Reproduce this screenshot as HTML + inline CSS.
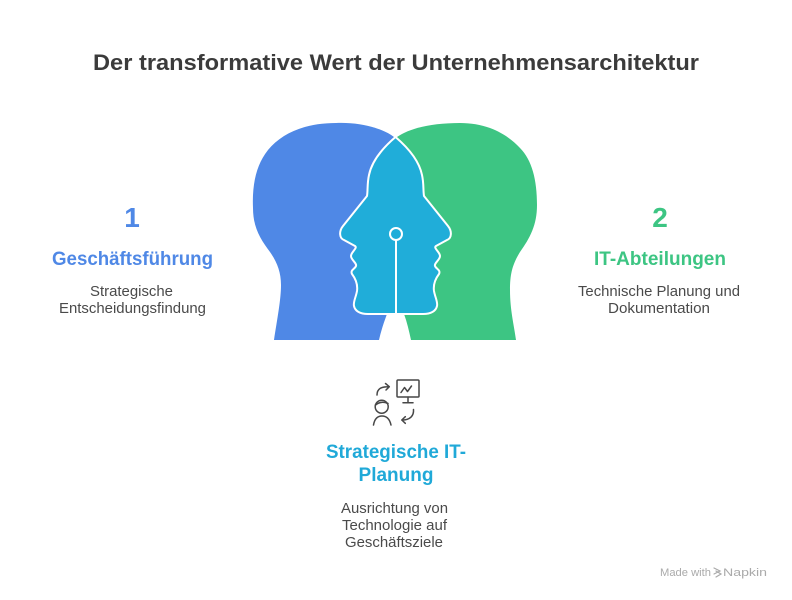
<!DOCTYPE html>
<html>
<head>
<meta charset="utf-8">
<style>
  html, body { margin:0; padding:0; background:#ffffff; }
  body { width:792px; height:600px; overflow:hidden; }
  svg { display:block; }
  text { font-family: "Liberation Sans", "DejaVu Sans", sans-serif; }
</style>
</head>
<body>
<svg width="792" height="600" viewBox="0 0 792 600" xmlns="http://www.w3.org/2000/svg">
  <rect width="792" height="600" fill="#ffffff"/>

  <!-- Title -->
  <text x="93" y="70" font-size="22" font-weight="bold" fill="#3b3b3b" textLength="606" lengthAdjust="spacingAndGlyphs">Der transformative Wert der Unternehmensarchitektur</text>

  <!-- Blue head -->
  <path d="M274,340 C277,320 281,300 281,285 C281,272 277,262 270,252 C261,240 253,228 253,208 C252,185 256,165 268,150 C282,133 305,123 336,123 C360,122 382,128 394,137 L395,300 L387,314 C384,322 381,331 379,340 Z" fill="#4F88E6"/>
  <!-- Green head -->
  <path d="M516,340 C514,325 510,310 510,290 C510,275 512,265 520,252 C530,238 537,225 537,205 C537,180 532,160 520,148 C505,132 485,123 460,123 C432,123 410,128 397,137 L396,300 L404,314 C407,322 409,331 411,340 Z" fill="#3DC583"/>
  <!-- Cyan face (intersection) -->
  <path d="M395.5,137 C385,146 372,160 369,175 C367,184 368,190 367,196 L343,226 C339,231 339,238 344,240 L355,246 C358,248 351,252 351,256 C351,260 357,263 356,266 C355,269 350,270 352,274 C355,278 358,284 357,291 C356,297 353,302 354,306 C355,311 360,314 368,314 L423,314 C431,314 436,311 437,306 C438,302 435,297 434,291 C433,284 436,278 439,274 C441,270 436,269 435,266 C434,263 440,260 440,256 C440,252 433,248 436,246 L447,240 C452,238 452,231 448,226 L424,196 C423,190 424,184 422,175 C419,160 406,146 395.5,137 Z" fill="#20ADD9" stroke="#ffffff" stroke-width="2" stroke-linejoin="round"/>
  <!-- center line + circle -->
  <line x1="396" y1="240.5" x2="396" y2="314" stroke="#ffffff" stroke-width="2"/>
  <circle cx="396" cy="234" r="6" fill="#20ADD9" stroke="#ffffff" stroke-width="2"/>

  <!-- Left column -->
  <text x="132" y="227" font-size="28" font-weight="bold" fill="#4F88E6" text-anchor="middle">1</text>
  <text x="52" y="265" font-size="19" font-weight="bold" fill="#4F88E6" textLength="161" lengthAdjust="spacingAndGlyphs">Geschäftsführung</text>
  <text x="90" y="296" font-size="15" fill="#4a4a4a" textLength="83" lengthAdjust="spacingAndGlyphs">Strategische</text>
  <text x="59" y="313" font-size="15" fill="#4a4a4a" textLength="147" lengthAdjust="spacingAndGlyphs">Entscheidungsfindung</text>

  <!-- Right column -->
  <text x="660" y="227" font-size="28" font-weight="bold" fill="#3DC583" text-anchor="middle">2</text>
  <text x="594" y="265" font-size="19" font-weight="bold" fill="#3DC583" textLength="132" lengthAdjust="spacingAndGlyphs">IT-Abteilungen</text>
  <text x="578" y="296" font-size="15" fill="#4a4a4a" textLength="162" lengthAdjust="spacingAndGlyphs">Technische Planung und</text>
  <text x="608" y="313" font-size="15" fill="#4a4a4a" textLength="102" lengthAdjust="spacingAndGlyphs">Dokumentation</text>

  <!-- Icon -->
  <g fill="none" stroke="#474747" stroke-width="1.5" stroke-linecap="round" stroke-linejoin="round">
    <path d="M377,395 C377,389 381,386.5 389,386.7"/>
    <path d="M385.5,383.5 L389.3,386.7 L386,390"/>
    <rect x="397" y="380" width="22" height="17" rx="1"/>
    <path d="M408,397 L408,402.5"/>
    <path d="M403,402.7 L413,402.7"/>
    <path d="M401,392.5 L404.5,387.5 L407.5,391.5 L411.5,386"/>
    <circle cx="381.7" cy="406.7" r="6.5"/>
    <path d="M375.5,405 Q381,400.5 388,403.5"/>
    <path d="M373.5,425 Q375,416 382,416 Q389,416 391,425"/>
    <path d="M413.5,409.5 C414,416 410,420 402,420"/>
    <path d="M405.3,416.7 L401.8,420 L405.3,423.3"/>
  </g>

  <!-- Bottom column -->
  <text x="326" y="458" font-size="19" font-weight="bold" fill="#20A9D8" textLength="140" lengthAdjust="spacingAndGlyphs">Strategische IT-</text>
  <text x="396" y="481" font-size="19" font-weight="bold" fill="#20A9D8" text-anchor="middle">Planung</text>
  <text x="341" y="513" font-size="15" fill="#4a4a4a" textLength="107" lengthAdjust="spacingAndGlyphs">Ausrichtung von</text>
  <text x="342" y="530" font-size="15" fill="#4a4a4a" textLength="105" lengthAdjust="spacingAndGlyphs">Technologie auf</text>
  <text x="345" y="547" font-size="15" fill="#4a4a4a" textLength="98" lengthAdjust="spacingAndGlyphs">Geschäftsziele</text>

  <!-- Watermark -->
  <text x="660" y="576" font-size="11" fill="#aaaaaa" textLength="51" lengthAdjust="spacingAndGlyphs">Made with</text>
  <g stroke="#aaaaaa" stroke-width="1.2" fill="none" stroke-linecap="round">
    <path d="M714,568 L720,571 L714,574"/>
    <path d="M716,571 L721,574 L716,577"/>
  </g>
  <text x="723" y="576" font-size="11" fill="#aaaaaa" textLength="44" lengthAdjust="spacingAndGlyphs">Napkin</text>
</svg>
</body>
</html>
